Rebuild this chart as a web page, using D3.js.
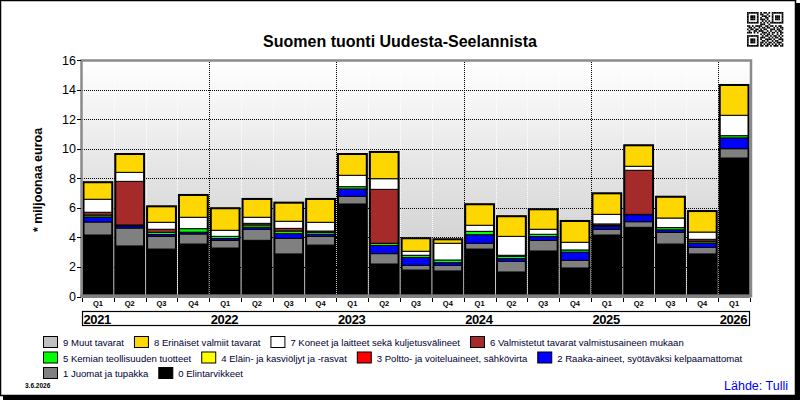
<!DOCTYPE html>
<html><head><meta charset="utf-8">
<script src="https://cdn.jsdelivr.net/npm/d3@7"></script>
<style>
html,body{margin:0;padding:0;background:#fff;}
svg{display:block;font-family:"Liberation Sans",Arial,sans-serif;}
</style></head>
<body>
<svg id="chart" width="800" height="400"></svg>
<script>
// ---------- DATA ----------
const quarters = ["Q1","Q2","Q3","Q4","Q1","Q2","Q3","Q4","Q1","Q2","Q3","Q4","Q1","Q2","Q3","Q4","Q1","Q2","Q3","Q4","Q1"];
const years = ["2021","2021","2021","2021","2022","2022","2022","2022","2023","2023","2023","2023","2024","2024","2024","2024","2025","2025","2025","2025","2026"];
const yearLabels = ["2021","2022","2023","2024","2025","2026"];
const yTicks = [0,2,4,6,8,10,12,14,16];

const seriesNames = [
  "0 Elintarvikkeet",
  "1 Juomat ja tupakka",
  "2 Raaka-aineet, syötäväksi kelpaamattomat",
  "3 Poltto- ja voiteluaineet, sähkövirta",
  "4 Eläin- ja kasviöljyt ja -rasvat",
  "5 Kemian teollisuuden tuotteet",
  "6 Valmistetut tavarat valmistusaineen mukaan",
  "7 Koneet ja laitteet sekä kuljetusvälineet",
  "8 Erinäiset valmiit tavarat",
  "9 Muut tavarat"
];
const seriesColors = ["#000000","#808080","#0000ff","#ff0000","#ffff00","#00ff00","#a52a2a","#ffffff","#ffd700","#c0c0c0"];

const s0 = [4.16,3.42,3.21,3.55,3.28,3.80,2.88,3.48,6.26,2.20,1.79,1.73,3.21,1.66,3.08,1.93,4.16,4.68,3.55,2.88,9.37];
const s1 = [0.88,1.21,0.86,0.68,0.52,0.75,1.06,0.59,0.52,0.70,0.32,0.38,0.39,0.72,0.72,0.52,0.39,0.38,0.79,0.45,0.63];
const s2 = [0.34,0.15,0.12,0.12,0.12,0.14,0.31,0.14,0.50,0.55,0.53,0.18,0.58,0.18,0.25,0.55,0.20,0.47,0.17,0.29,0.73];
const s3 = [0,0,0,0,0,0,0,0,0,0,0,0,0,0,0,0,0,0,0,0,0];
const s4 = [0,0,0,0,0,0,0,0,0,0,0,0,0,0,0,0,0,0,0,0,0];
const s5 = [0.13,0.06,0.15,0.24,0.15,0.15,0.18,0.12,0.15,0.15,0.15,0.18,0.23,0.15,0.16,0.15,0.05,0.03,0.15,0.12,0.15];
const s6 = [0.19,2.95,0.21,0,0,0.11,0.18,0.10,0,3.65,0,0,0,0.08,0,0,0.11,2.98,0,0.13,0];
const s7 = [0.88,0.61,0.47,0.77,0.41,0.41,0.48,0.59,0.77,0.72,0.27,1.13,0.41,1.28,0.34,0.52,0.65,0.27,0.65,0.49,1.38];
const s8 = [1.15,1.24,1.08,1.51,1.49,1.24,1.26,1.58,1.44,1.81,0.88,0.27,1.42,1.36,1.35,1.44,1.42,1.42,1.44,1.42,2.05];
const s9 = [0,0,0,0,0,0,0,0,0,0,0,0,0,0,0,0,0,0,0,0,0];
const seriesValues = [s0,s1,s2,s3,s4,s5,s6,s7,s8,s9];

const legendRows = [[9,8,7,6],[5,4,3,2],[1,0]];

// ---------- LAYOUT ----------
const svg = d3.select("#chart");
const plot = {left:82, right:750, top:60, bottom:296.5};

const x = d3.scaleBand().domain(d3.range(quarters.length)).range([plot.left, plot.right]).padding(0);
const y = d3.scaleLinear().domain([0,16]).range([plot.bottom, plot.top]);

const defs = svg.append("defs");
const grad = defs.append("linearGradient").attr("id","bg").attr("x1",0).attr("y1",0).attr("x2",0).attr("y2",1);
grad.append("stop").attr("offset","0%").attr("stop-color","#ffffff");
grad.append("stop").attr("offset","100%").attr("stop-color","#c6c6c6");

// outer frame
svg.append("rect").attr("x",0.5).attr("y",0.5).attr("width",795).attr("height",395)
  .attr("fill","#fff").attr("stroke","#000").attr("stroke-width",1.5);
svg.append("rect").attr("x",796).attr("y",3).attr("width",4).attr("height",397).attr("fill","#000");
svg.append("rect").attr("x",3).attr("y",396).attr("width",797).attr("height",4).attr("fill","#000");

// title
svg.append("text").attr("x",400).attr("y",47).attr("text-anchor","middle")
  .attr("font-size","16px").attr("font-weight","bold").attr("fill","#000")
  .text("Suomen tuonti Uudesta-Seelannista");

// plot background
svg.append("rect").attr("x",plot.left).attr("y",plot.top)
  .attr("width",plot.right-plot.left).attr("height",plot.bottom-plot.top)
  .attr("fill","url(#bg)");

// vertical quarter gridlines (white dotted) and year gridlines (black dotted)
const bounds = d3.range(1, quarters.length).map(i => ({i, x: x(i)}));
svg.append("g").selectAll("line").data(bounds).join("line")
  .attr("x1",d=>Math.round(d.x)+0.5).attr("x2",d=>Math.round(d.x)+0.5)
  .attr("y1",plot.top).attr("y2",plot.bottom)
  .attr("stroke",d=> quarters[d.i]==="Q1" ? "#000" : "#fff")
  .attr("stroke-width",1).attr("stroke-dasharray","1,1");

// horizontal gridlines
svg.append("g").selectAll("line").data(yTicks.filter(t=>t>0 && t<16)).join("line")
  .attr("x1",plot.left).attr("x2",plot.right)
  .attr("y1",d=>Math.round(y(d))+0.5).attr("y2",d=>Math.round(y(d))+0.5)
  .attr("stroke","#000").attr("stroke-width",1).attr("stroke-dasharray","1,1");

// stacked bars
const stackData = quarters.map((q,i)=>{
  const o = {i};
  seriesValues.forEach((arr,k)=>{ o["s"+k] = arr[i]; });
  return o;
});
const stack = d3.stack().keys(seriesValues.map((_,k)=>"s"+k));
const layers = stack(stackData);

const barG = svg.append("g");
layers.forEach((layer,k)=>{
  barG.append("g").selectAll("rect").data(layer.filter(d=>d[1]-d[0]>0)).join("rect")
    .attr("x",d=>x(d.data.i)+1.5)
    .attr("width",x.bandwidth()-3)
    .attr("y",d=>y(d[1]))
    .attr("height",d=>y(d[0])-y(d[1]))
    .attr("fill",seriesColors[k])
    .attr("stroke","#000").attr("stroke-width",1);
});
// bar outlines
const totals = quarters.map((q,i)=>d3.sum(seriesValues,a=>a[i]));
barG.append("g").selectAll("rect").data(totals).join("rect")
  .attr("x",(d,i)=>x(i)+1.5).attr("width",x.bandwidth()-3)
  .attr("y",d=>y(d)).attr("height",d=>y(0)-y(d))
  .attr("fill","none").attr("stroke","#000").attr("stroke-width",2);

// plot frame (gray)
svg.append("rect").attr("x",plot.left-0.5).attr("y",plot.top+0.5)
  .attr("width",plot.right-plot.left+1.5).attr("height",plot.bottom-plot.top-1)
  .attr("fill","none").attr("stroke","#8a8a8a").attr("stroke-width",2.5);
svg.append("line").attr("x1",plot.left-1.5).attr("x2",plot.right+1.5)
  .attr("y1",plot.bottom-0.5).attr("y2",plot.bottom-0.5)
  .attr("stroke","#808080").attr("stroke-width",3);

// y axis labels and ticks
const yAxisG = svg.append("g");
yAxisG.selectAll("line").data(yTicks).join("line")
  .attr("x1",77).attr("x2",plot.left-1)
  .attr("y1",d=>Math.round(y(d))+0.5).attr("y2",d=>Math.round(y(d))+0.5)
  .attr("stroke","#000");
yAxisG.selectAll("text").data(yTicks).join("text")
  .attr("x",76).attr("y",d=>y(d)+4.5).attr("text-anchor","end")
  .attr("font-size","12.5px").attr("fill","#000").text(d=>d);

svg.append("text").attr("transform","translate(42,180) rotate(-90)")
  .attr("text-anchor","middle").attr("font-size","12.5px").attr("font-weight","bold")
  .text("* miljoonaa euroa");

// x ticks
const xtG = svg.append("g");
xtG.selectAll("line").data(d3.range(quarters.length+1)).join("line")
  .attr("x1",i=>Math.round(i<quarters.length? x(i): plot.right)+0.5)
  .attr("x2",i=>Math.round(i<quarters.length? x(i): plot.right)+0.5)
  .attr("y1",298).attr("y2",302).attr("stroke","#000");
xtG.selectAll("text").data(quarters).join("text")
  .attr("x",(d,i)=>x(i)+x.bandwidth()/2).attr("y",306)
  .attr("text-anchor","middle").attr("font-size","7.5px").attr("font-weight","bold")
  .text(d=>d);

// year box
svg.append("rect").attr("x",plot.left+0.5).attr("y",311.5)
  .attr("width",plot.right-plot.left-1).attr("height",14)
  .attr("fill","#fff").attr("stroke","#000").attr("stroke-width",1.2);
svg.append("g").selectAll("text").data(yearLabels).join("text")
  .attr("x",d=>x(years.indexOf(d))+1.5).attr("y",323.5)
  .attr("font-size","13px").attr("font-weight","bold").attr("letter-spacing","-0.4px")
  .text(d=>d);

// legend
const legG = svg.append("g");
const rowY = [342, 357.5, 373];
// choose font size so that the long legend texts match the reference widths
const probe = legG.append("text").attr("font-size","10px");
const targets = [[9,61],[7,170],[6,194],[2,185]];
let ratio = 0;
targets.forEach(([k,w])=>{ probe.text(seriesNames[k]); ratio += w / probe.node().getComputedTextLength(); });
ratio /= targets.length;
probe.remove();
const legFont = 10 * ratio;
legendRows.forEach((row,r)=>{
  let cx = 43;
  row.forEach(k=>{
    legG.append("rect").attr("x",cx+0.5).attr("y",rowY[r]-5.5).attr("width",14).attr("height",11)
      .attr("fill",seriesColors[k]).attr("stroke","#000").attr("stroke-width",1);
    const t = legG.append("text").attr("x",cx+20).attr("y",rowY[r]+4)
      .attr("font-size",legFont+"px").attr("fill","#000033").text(seriesNames[k]);
    cx += 20 + t.node().getComputedTextLength() + 10;
  });
});

// date and source
svg.append("text").attr("x",25).attr("y",388).attr("font-size","6.5px").attr("font-weight","bold").text("3.6.2026");
svg.append("text").attr("x",788).attr("y",390).attr("text-anchor","end").attr("font-size","12.5px")
  .attr("fill","#0000ff").text("Lähde: Tulli");

// QR-like code mark (decorative)
const qr = [
  "1111111010110101111111",
  "1000001011001001000001",
  "1011101001110101011101",
  "1011101010011001011101",
  "1011101011101001011101",
  "1000001001010101000001",
  "1111111010101011111111",
  "0000000011100100000000",
  "1101011110011011010110",
  "0110100101101100101011",
  "1011011010110011101101",
  "0100110111001010010110",
  "1110101001110101101011",
  "0000000010101101001010",
  "1111111001011010110101",
  "1000001011100101011010",
  "1011101010011110100111",
  "1011101001101001011001",
  "1011101011010110101110",
  "1000001010101101010101",
  "1111111011011010111011",
  "0000000000000000000000"
];
const qs = 1.65, qx = 747, qy = 12;
const cells = [];
qr.forEach((row,r)=>row.split("").forEach((c,cI)=>{ if(c==="1") cells.push([r,cI]); }));
svg.append("g").selectAll("rect").data(cells).join("rect")
  .attr("x",d=>qx+d[1]*qs).attr("y",d=>qy+d[0]*qs)
  .attr("width",qs+0.05).attr("height",qs+0.05).attr("fill","#000");
</script>
</body></html>
